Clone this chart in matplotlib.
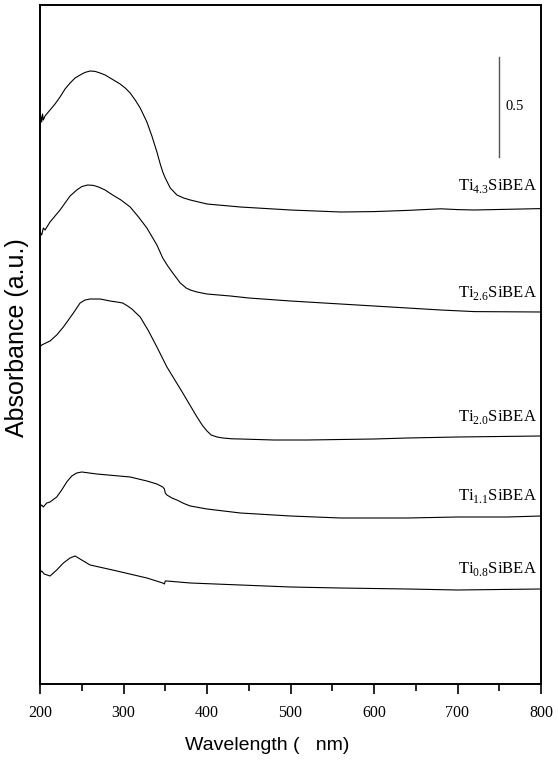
import numpy as np
import matplotlib
matplotlib.use('Agg')
from matplotlib import pyplot as plt
from matplotlib.ticker import MultipleLocator

# wavelength (nm) and absorbance (a.u., offset stacked)
wl_43 = [200, 201, 202, 203, 204, 206, 208, 212, 218, 224, 230, 236, 242, 248, 254, 260, 266, 272, 278, 284, 290,
         296, 302, 308, 314, 320, 328, 334, 340, 344, 347, 350, 356, 364, 372, 380, 400, 440, 500, 560, 600, 640,
         680, 700, 720, 800]
ab_43 = [2.80, 2.84, 2.81, 2.85, 2.82, 2.84, 2.85, 2.87, 2.90, 2.935, 2.975, 3.005, 3.03, 3.045, 3.058, 3.065,
         3.063, 3.055, 3.045, 3.03, 3.015, 3.0, 2.98, 2.955, 2.92, 2.88, 2.81, 2.74, 2.66, 2.60, 2.56, 2.53, 2.48,
         2.445, 2.43, 2.42, 2.40, 2.385, 2.37, 2.36, 2.362, 2.368, 2.376, 2.372, 2.37, 2.377]

wl_26 = [200, 202, 204, 206, 212, 218, 224, 230, 236, 244, 250, 257, 264, 270, 278, 287, 297, 308, 318, 328, 340,
         347, 353, 359, 368, 375, 380, 388, 400, 428, 450, 500, 560, 640, 680, 720, 800]
ab_26 = [2.26, 2.245, 2.28, 2.27, 2.31, 2.34, 2.37, 2.405, 2.44, 2.47, 2.487, 2.495, 2.493, 2.485, 2.47, 2.445,
         2.42, 2.385, 2.335, 2.28, 2.195, 2.13, 2.09, 2.055, 2.005, 1.98, 1.97, 1.96, 1.95, 1.94, 1.93, 1.915, 1.90,
         1.88, 1.87, 1.862, 1.86]

wl_20 = [200, 202, 212, 220, 228, 234, 240, 248, 254, 260, 272, 284, 292, 299, 305, 310, 320, 330, 340, 352, 371,
         388, 395, 400, 405, 412, 419, 430, 440, 480, 520, 600, 640, 700, 800]
ab_20 = [1.685, 1.695, 1.715, 1.745, 1.785, 1.82, 1.855, 1.905, 1.92, 1.925, 1.925, 1.915, 1.91, 1.905, 1.89,
         1.875, 1.835, 1.765, 1.685, 1.585, 1.455, 1.335, 1.29, 1.265, 1.245, 1.235, 1.23, 1.226, 1.225, 1.22,
         1.22, 1.225, 1.23, 1.235, 1.24]

wl_11 = [200, 202, 204, 208, 212, 220, 226, 232, 238, 244, 250, 268, 308, 328, 340, 347, 349, 350, 352, 358, 364,
         372, 380, 400, 440, 500, 560, 640, 700, 760, 800]
ab_11 = [0.885, 0.895, 0.885, 0.905, 0.91, 0.935, 0.97, 1.01, 1.04, 1.055, 1.06, 1.05, 1.035, 1.015, 1.0, 0.985,
         0.975, 0.955, 0.945, 0.93, 0.92, 0.903, 0.89, 0.875, 0.855, 0.84, 0.83, 0.83, 0.835, 0.835, 0.84]

wl_08 = [200, 202, 205, 212, 220, 228, 236, 242, 250, 260, 287, 328, 347, 349, 350, 352, 380, 440, 500, 559, 640,
         700, 800]
ab_08 = [0.555, 0.565, 0.55, 0.54, 0.57, 0.605, 0.63, 0.64, 0.62, 0.595, 0.57, 0.53, 0.505, 0.50, 0.515, 0.515,
         0.505, 0.495, 0.485, 0.48, 0.475, 0.47, 0.475]

labels = ['4.3', '2.6', '2.0', '1.1', '0.8']
label_y = [2.49, 1.955, 1.335, 0.94, 0.575]

plt.rcParams['mathtext.fontset'] = 'custom'
plt.rcParams['mathtext.rm'] = 'Liberation Serif'

fig = plt.figure(figsize=(5.58, 7.73), dpi=100)
ax = fig.add_axes([40 / 558, 89 / 773, 501 / 558, 679 / 773])

for wl, ab in [(wl_43, ab_43), (wl_26, ab_26), (wl_20, ab_20), (wl_11, ab_11), (wl_08, ab_08)]:
    ax.plot(wl, ab, color='black', lw=0.8)

for lab, y in zip(labels, label_y):
    ax.text(795, y, r'Ti$_{\mathrm{%s}}$SiBEA' % lab, ha='right', va='center',
            fontsize=12, family='Liberation Serif')

# scale bar
ax.plot([750, 750], [2.635, 3.135], color='#555555', lw=1.0)
ax.text(757, 2.885, '0.5', ha='left', va='center', fontsize=10.5, family='Liberation Serif')

ax.set_xlim(200, 800)
ax.set_ylim(0, 3.395)
ax.xaxis.set_major_locator(MultipleLocator(100))
ax.xaxis.set_minor_locator(MultipleLocator(50))
ax.tick_params(axis='x', which='major', direction='out', length=7, width=1.2, pad=8)
ax.tick_params(axis='x', which='minor', direction='out', length=5, width=1.2)
ax.set_yticks([])
for lbl in ax.get_xticklabels():
    lbl.set_family('Liberation Serif')
    lbl.set_fontsize(11.5)
for sp in ax.spines.values():
    sp.set_linewidth(1.4)

fig.text(267 / 558, 1 - 745 / 773, 'Wavelength (   nm)', fontsize=14, family='Liberation Sans',
         ha='center', va='center')
fig.text(17 / 558, 1 - 338 / 773, 'Absorbance (a.u.)', fontsize=18, family='Liberation Sans',
         ha='center', va='center', rotation=90)

fig.savefig('out.png', dpi=100)
